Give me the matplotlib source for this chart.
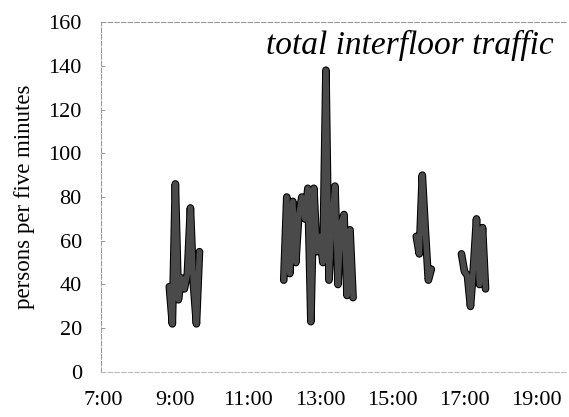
import numpy as np
import matplotlib
matplotlib.use("Agg")
import matplotlib.pyplot as plt
import matplotlib.patheffects as pe

# ---- data (persons per five minutes, 5-minute samples) ----
morning_start = "8:50"
morning_values = [39, 22, 86, 33, 43, 38, 45, 75, 40, 22, 55]

midday_start = "12:00"
midday_values = [42, 80, 45, 78, 50, 72, 80, 70, 84, 23, 84, 55,
                 62, 50, 138, 42, 70, 85, 40, 68, 72, 35, 65, 34]

afternoon_start = "15:40"
afternoon_values = [62, 54, 90, 65, 42, 47]

evening_start = "16:55"
evening_values = [54, 46, 44, 30, 48, 70, 40, 66, 38]

x_tick_labels = ["7:00", "9:00", "11:00", "13:00", "15:00", "17:00", "19:00"]
y_ticks = [0, 20, 40, 60, 80, 100, 120, 140, 160]

title_text = "total interfloor traffic"
y_label = "persons per five minutes"


def to_hours(s):
    h, m = s.split(":")
    return int(h) + int(m) / 60.0


def segment(start, values):
    t0 = to_hours(start)
    t = t0 + np.arange(len(values)) * 5 / 60.0
    return t, np.asarray(values, dtype=float)


xs, ys = [], []
for st, vals in [(morning_start, morning_values), (midday_start, midday_values),
                 (afternoon_start, afternoon_values), (evening_start, evening_values)]:
    t, v = segment(st, vals)
    xs.extend(t.tolist() + [np.nan])
    ys.extend(v.tolist() + [np.nan])

plt.rcParams['font.family'] = ['Liberation Serif', 'DejaVu Serif']

fig = plt.figure(figsize=(5.69, 4.17), dpi=100)
ax = fig.add_axes([0.178, 0.108, 0.818, 0.839])

ax.plot(xs, ys, color="#4a4a4a", lw=4.0, solid_joinstyle="round",
        solid_capstyle="round",
        path_effects=[pe.Stroke(linewidth=5.5, foreground="black"), pe.Normal()])

ax.set_xlim(6.95, 19.83)
ax.set_ylim(0, 160)
ax.set_xticks([to_hours(s) for s in x_tick_labels])
ax.set_xticklabels(x_tick_labels)
ax.set_yticks(y_ticks)
ax.tick_params(axis="both", labelsize=16, colors="#888888", labelcolor="black",
               direction="in", length=3, width=0.6)
ax.tick_params(axis="y", pad=14)
ax.tick_params(axis="x", pad=14, length=0)

for side in ["left", "top", "bottom"]:
    ax.spines[side].set_linestyle((0, (4, 2)))
    ax.spines[side].set_color("#999999")
    ax.spines[side].set_linewidth(0.8)
ax.spines["bottom"].set_color("#bbbbbb")
ax.spines["right"].set_visible(False)

ax.set_ylabel(y_label, fontsize=16.5, labelpad=10)
ax.text(0.972, 0.978, title_text, transform=ax.transAxes, ha="right", va="top",
        fontsize=24, style="italic")

fig.savefig("out.png", dpi=100)
